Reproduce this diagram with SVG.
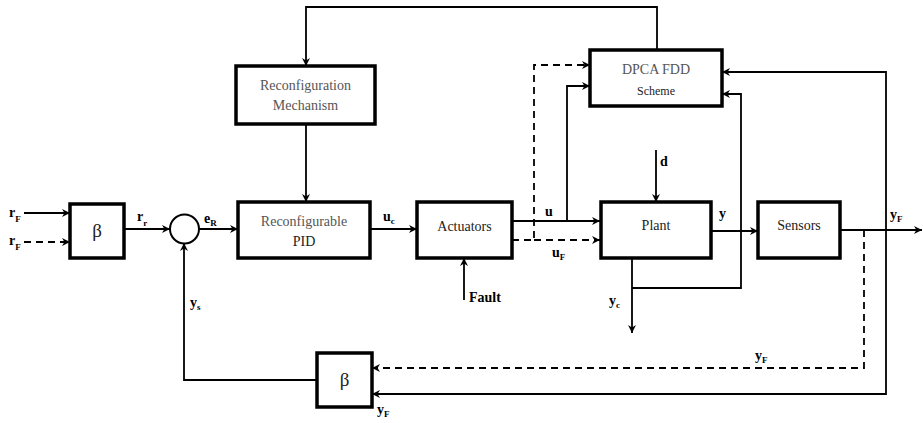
<svg xmlns="http://www.w3.org/2000/svg" width="923" height="423" viewBox="0 0 923 423">
<style>
.box{fill:#fff;stroke:#000;stroke-width:3.5}
.ln{fill:none;stroke:#000;stroke-width:1.8}
.ds{fill:none;stroke:#000;stroke-width:1.8;stroke-dasharray:7,5}
.bt{font-family:"Liberation Serif",serif;font-size:14px;fill:#555;text-anchor:middle}
.bk{font-family:"Liberation Serif",serif;font-size:14px;fill:#222;text-anchor:middle}
.lb{font-family:"Liberation Serif",serif;font-size:14px;fill:#000;font-weight:bold}
.sb{font-size:9px}
</style>
<defs>
<marker id="ar" viewBox="0 0 10 10" refX="10" refY="5" markerWidth="8" markerHeight="8" markerUnits="userSpaceOnUse" orient="auto">
<path d="M0,0 L10,5 L0,10 L3,5 Z" fill="#000"/>
</marker>
</defs>
<g id="connectors">
<path class="ln" d="M24,213 H70" marker-end="url(#ar)"/>
<path class="ds" d="M24,242 H70" marker-end="url(#ar)"/>
<path class="ln" d="M124,229 H170" marker-end="url(#ar)"/>
<path class="ln" d="M199,229 H238" marker-end="url(#ar)"/>
<path class="ln" d="M657,50 V7 H306 V66" marker-end="url(#ar)"/>
<path class="ln" d="M306,124 V202" marker-end="url(#ar)"/>
<path class="ln" d="M370,229 H417" marker-end="url(#ar)"/>
<path class="ln" d="M464,300 V258" marker-end="url(#ar)"/>
<path class="ln" d="M512,221 H600" marker-end="url(#ar)"/>
<path class="ln" d="M567,221 V86 H590" marker-end="url(#ar)"/>
<path class="ds" d="M512,240 H534 V65 H590" marker-end="url(#ar)"/>
<path class="ds" d="M534,240 H600" marker-end="url(#ar)"/>
<path class="ln" d="M656,150 V202" marker-end="url(#ar)"/>
<path class="ln" d="M711,231 H758" marker-end="url(#ar)"/>
<path class="ln" d="M632,258 V333" marker-end="url(#ar)"/>
<path class="ln" d="M632,288 H741 V94 H722" marker-end="url(#ar)"/>
<path class="ln" d="M840,230 H922" marker-end="url(#ar)"/>
<path class="ln" d="M886,230 V72 H722" marker-end="url(#ar)"/>
<path class="ln" d="M886,230 V394 H372" marker-end="url(#ar)"/>
<path class="ds" d="M864,230 V368 H372" marker-end="url(#ar)"/>
<path class="ln" d="M317,380 H184 V243" marker-end="url(#ar)"/>
</g>
<g id="beta_in">
<rect class="box" x="70" y="204" width="54" height="54"/>
<text class="bk" x="97" y="237" style="font-size:19px">β</text>
</g>
<g id="sum">
<circle cx="184.5" cy="229" r="14.5" fill="#fff" stroke="#000" stroke-width="2"/>
</g>
<g id="mechanism">
<rect class="box" x="236" y="66" width="139" height="58"/>
<text class="bt" x="305.5" y="90">Reconfiguration</text>
<text class="bt" x="305.5" y="110">Mechanism</text>
</g>
<g id="pid">
<rect class="box" x="238" y="202" width="132" height="56"/>
<text class="bt" x="304" y="226">Reconfigurable</text>
<text class="bk" x="304" y="246">PID</text>
</g>
<g id="actuators">
<rect class="box" x="417" y="202" width="95" height="56"/>
<text class="bk" x="464.5" y="231">Actuators</text>
</g>
<g id="dpca">
<rect class="box" x="590" y="50" width="132" height="56"/>
<text class="bt" x="656" y="74">DPCA FDD</text>
<text class="bk" x="656" y="95" style="font-size:12px">Scheme</text>
</g>
<g id="plant">
<rect class="box" x="601" y="202" width="110" height="56"/>
<text class="bk" x="656" y="230">Plant</text>
</g>
<g id="sensors">
<rect class="box" x="758" y="202" width="82" height="56"/>
<text class="bk" x="799" y="230">Sensors</text>
</g>
<g id="beta_fb">
<rect class="box" x="317" y="353" width="55" height="54"/>
<text class="bk" x="344.5" y="386" style="font-size:19px">β</text>
</g>
<g id="labels">
<text class="lb" x="9" y="217">r<tspan class="sb" dy="5">F</tspan></text>
<text class="lb" x="9" y="245">r<tspan class="sb" dy="5">F</tspan></text>
<text class="lb" x="137" y="221">r<tspan class="sb" dy="5">r</tspan></text>
<text class="lb" x="204" y="223">e<tspan class="sb" dy="3">R</tspan></text>
<text class="lb" x="383" y="221">u<tspan class="sb" dy="3">c</tspan></text>
<text class="lb" x="545" y="216">u</text>
<text class="lb" x="552" y="257">u<tspan class="sb" dy="3">F</tspan></text>
<text class="lb" x="469" y="302">Fault</text>
<text class="lb" x="660" y="166">d</text>
<text class="lb" x="719" y="218">y</text>
<text class="lb" x="609" y="305">y<tspan class="sb" dy="3">c</tspan></text>
<text class="lb" x="890" y="219">y<tspan class="sb" dy="3">F</tspan></text>
<text class="lb" x="190" y="307">y<tspan class="sb" dy="3">s</tspan></text>
<text class="lb" x="755" y="360">y<tspan class="sb" dy="3">F</tspan></text>
<text class="lb" x="377" y="414">y<tspan class="sb" dy="3">F</tspan></text>
</g>
</svg>
